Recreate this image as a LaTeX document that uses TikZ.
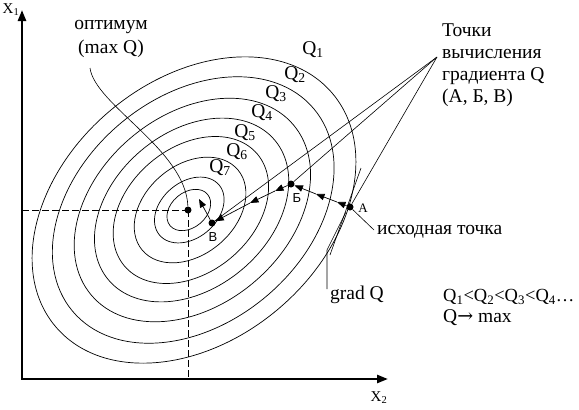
\documentclass[tikz,border=0pt]{standalone}
\usepackage{fontspec}
\setmainfont{Liberation Serif}
\newfontfamily\sansf{Liberation Sans}
\newfontfamily\arrowf{DejaVu Serif}
\usetikzlibrary{arrows.meta}
\begin{document}
\begin{tikzpicture}[x=1pt,y=-1pt,
  contour/.style={line width=0.7pt},
  axis/.style={line width=2.4pt,{Triangle[length=11pt,width=8pt]}-{Triangle[length=11pt,width=8pt]}},
  guide/.style={line width=0.7pt, dash pattern=on 7pt off 3pt},
  pointer/.style={line width=0.6pt},
  stepline/.style={line width=0.7pt,-{Triangle[length=8.5pt,width=6.5pt]}},
  dotnode/.style={circle,fill,inner sep=0pt,minimum size=7pt},
  lbl/.style={font=\fontsize{19.5}{22}\selectfont, inner sep=0pt},
  ptlbl/.style={font=\fontsize{13}{14}\selectfont, inner sep=0pt},
]
\useasboundingbox (0,0) rectangle (579,410);
% axes
\coordinate (ytip) at (22,10);
\coordinate (O) at (22,379);
\coordinate (xtip) at (388,379);
\draw[axis] (ytip) -- (O) -- (xtip);
\node[font=\fontsize{15}{16}\selectfont, inner sep=0pt] (x1) at (11,10) {X\textsubscript{1}};
\node[font=\fontsize{15}{16}\selectfont, inner sep=0pt] (x2) at (379,398) {X\textsubscript{2}};
% contours
\foreach \k in {1,0.87,0.73,0.6,0.48,0.345,0.215,0.135}
  \draw[contour, shift={({188+6*\k},210)}, rotate=40] (0,0) ellipse [x radius={181*\k}, y radius={130*\k}];
% optimum and guides
\node[dotnode] (C) at (188,210) {};
\coordinate (hy) at (22,210);
\coordinate (vx) at (188,379);
\draw[guide] (hy) -- (C.center);
\draw[guide] (C.center) -- (vx);
% points
\node[dotnode] (A) at (350,207) {};
\node[dotnode] (B1) at (291,184) {};
\node[dotnode] (V) at (212,223) {};
\node[ptlbl] (lA) at (363,208) {A};
\node[ptlbl,font=\sansf\fontsize{13}{14}\selectfont] (lB) at (297,198) {Б};
\node[ptlbl,font=\sansf\fontsize{13}{14}\selectfont] (lV) at (213,237) {В};
% steps
\coordinate (a1) at (337,202);
\coordinate (a2) at (316,194);
\draw[stepline] (A) -- (a1);
\draw[stepline] (a1) -- (a2);
\draw[stepline] (a2) -- (B1);
\coordinate (b1) at (275,191);
\coordinate (b2) at (250,203);
\draw[stepline] (B1) -- (b1);
\draw[stepline] (b1) -- (b2);
\draw[stepline] (b2) -- (V);
\coordinate (vt) at (199,199);
\draw[stepline] (V) -- (vt);
% labels of contours
\node[lbl] (q1) at (313,50) {Q\textsubscript{1}};
\node[lbl] (q2) at (295,75) {Q\textsubscript{2}};
\node[lbl] (q3) at (276,94) {Q\textsubscript{3}};
\node[lbl] (q4) at (262,113) {Q\textsubscript{4}};
\node[lbl] (q5) at (245,133) {Q\textsubscript{5}};
\node[lbl] (q6) at (237,152) {Q\textsubscript{6}};
\node[lbl] (q7) at (220,168) {Q\textsubscript{7}};
% optimum label
\node[lbl, align=center, font=\fontsize{19.5}{24}\selectfont] (opt) at (111,39) {оптимум\\(max Q)};
\coordinate (op) at (90,68);
\draw[pointer] (op) .. controls (95,105) and (186,150) .. (C);
% gradient points label
\node[lbl, align=left, anchor=north west] (pts) at (442,24) {Точки\\вычисления\\градиента Q\\(А, Б, В)};
\coordinate (P) at (437,57);
\draw[pointer] (P) -- (A);
\draw[pointer] (P) -- (B1);
\draw[pointer] (P) -- (V);
% start point
\node[lbl, anchor=west] (start) at (377,232) {исходная точка};
\coordinate (ip) at (374,230);
\draw[pointer] (A) -- (ip);
% grad Q
\coordinate (t1) at (330,255);
\coordinate (t2) at (361,168);
\draw[pointer] (t1) -- (t2);
\node[lbl, anchor=west] (grad) at (330,295) {grad Q};
\coordinate (g1) at (327,289);
\coordinate (g2) at (327,250);
\coordinate (g3) at (346,212);
\draw[pointer] (g1) -- (g2) -- (g3);
% relation
\node[lbl, anchor=west, font=\fontsize{18.5}{22}\selectfont] (rel) at (443,297) {Q\textsubscript{1}<Q\textsubscript{2}<Q\textsubscript{3}<Q\textsubscript{4}…};
\node[lbl, anchor=west] (qmax) at (443,318) {Q{\arrowf\fontsize{19}{20}\selectfont →} max};
\end{tikzpicture}
\end{document}
